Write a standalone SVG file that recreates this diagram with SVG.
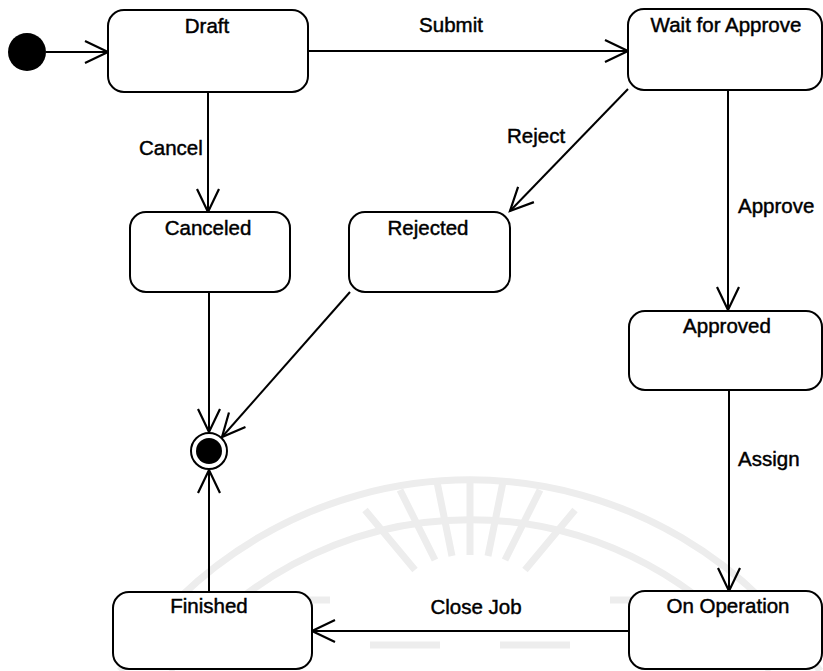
<svg xmlns="http://www.w3.org/2000/svg" width="823" height="671" viewBox="0 0 823 671">
  <defs>
    <marker id="open" markerUnits="userSpaceOnUse" markerWidth="30" markerHeight="30" viewBox="-25 -15 30 30" refX="0" refY="0" orient="auto">
      <path d="M -23 -11 L 0 0 L -23 11" fill="none" stroke="#000" stroke-width="2.2" stroke-linejoin="miter"/>
    </marker>
    <style>
      .state { fill: #fff; stroke: #000; stroke-width: 2; }
      .name { font-family: "Liberation Sans", Arial, sans-serif; font-size: 20.5px; fill: #000; stroke: #000; stroke-width: 0.45; text-anchor: middle; }
      .lbl { font-family: "Liberation Sans", Arial, sans-serif; font-size: 20.5px; fill: #000; stroke: #000; stroke-width: 0.45; }
      .edge { fill: none; stroke: #000; stroke-width: 2; marker-end: url(#open); }
      .wm { fill: none; stroke: #ededed; stroke-width: 7; }
    </style>
  </defs>
  <rect width="823" height="671" fill="#fff"/>

  <g id="watermark">
    <path class="wm" d="M 120 671 A 416 416 0 0 1 820 671"/>
    <path class="wm" d="M 170 671 A 373 373 0 0 1 770 671"/>
    <path class="wm" d="M 400 490 L 435 560 M 437 482 L 452 556 M 470 480 L 470 555 M 503 482 L 488 556 M 540 490 L 505 560 M 365 510 L 415 570 M 575 510 L 525 570"/>
    <path class="wm" d="M 250 600 L 330 600 M 370 645 L 440 645 M 500 645 L 570 645 M 610 600 L 690 600"/>
  </g>

  <g id="connectors">
    <line class="edge" x1="46" y1="52" x2="108" y2="52"/>
    <line class="edge" x1="308" y1="51" x2="628" y2="51"/>
    <line class="edge" x1="208" y1="92" x2="208" y2="212"/>
    <line class="edge" x1="628" y1="89" x2="510" y2="211"/>
    <line class="edge" x1="728" y1="90" x2="728" y2="310"/>
    <line class="edge" x1="729" y1="390" x2="729" y2="591"/>
    <line class="edge" x1="629" y1="631" x2="312" y2="631"/>
    <line class="edge" x1="209" y1="292" x2="209" y2="432"/>
    <line class="edge" x1="350" y1="292" x2="222" y2="437"/>
    <line class="edge" x1="209" y1="592" x2="209" y2="470"/>
    <text class="lbl" x="451" y="32" text-anchor="middle">Submit</text>
    <text class="lbl" x="139" y="155">Cancel</text>
    <text class="lbl" x="507" y="143">Reject</text>
    <text class="lbl" x="738" y="213">Approve</text>
    <text class="lbl" x="738" y="466">Assign</text>
    <text class="lbl" x="476" y="614" text-anchor="middle">Close Job</text>
  </g>

  <g id="initial">
    <circle cx="27" cy="52" r="19" fill="#000"/>
  </g>
  <g id="draft">
    <rect class="state" x="108" y="10" width="200" height="82" rx="16"/>
    <text class="name" x="207" y="33">Draft</text>
  </g>
  <g id="wait">
    <rect class="state" x="628" y="9" width="194" height="81" rx="16"/>
    <text class="name" x="726" y="32">Wait for Approve</text>
  </g>
  <g id="canceled">
    <rect class="state" x="130" y="212" width="160" height="80" rx="16"/>
    <text class="name" x="208" y="235">Canceled</text>
  </g>
  <g id="rejected">
    <rect class="state" x="349" y="212" width="161" height="80" rx="16"/>
    <text class="name" x="428" y="235">Rejected</text>
  </g>
  <g id="approved">
    <rect class="state" x="629" y="311" width="193" height="79" rx="16"/>
    <text class="name" x="727" y="333">Approved</text>
  </g>
  <g id="onoperation">
    <rect class="state" x="629" y="591" width="193" height="78" rx="16"/>
    <text class="name" x="728" y="613">On Operation</text>
  </g>
  <g id="finished">
    <rect class="state" x="113" y="592" width="199" height="77" rx="16"/>
    <text class="name" x="209" y="613">Finished</text>
  </g>
  <g id="final">
    <circle cx="209" cy="451" r="18" fill="#fff" stroke="#000" stroke-width="2"/>
    <circle cx="209" cy="451" r="13" fill="#000"/>
  </g>
</svg>
